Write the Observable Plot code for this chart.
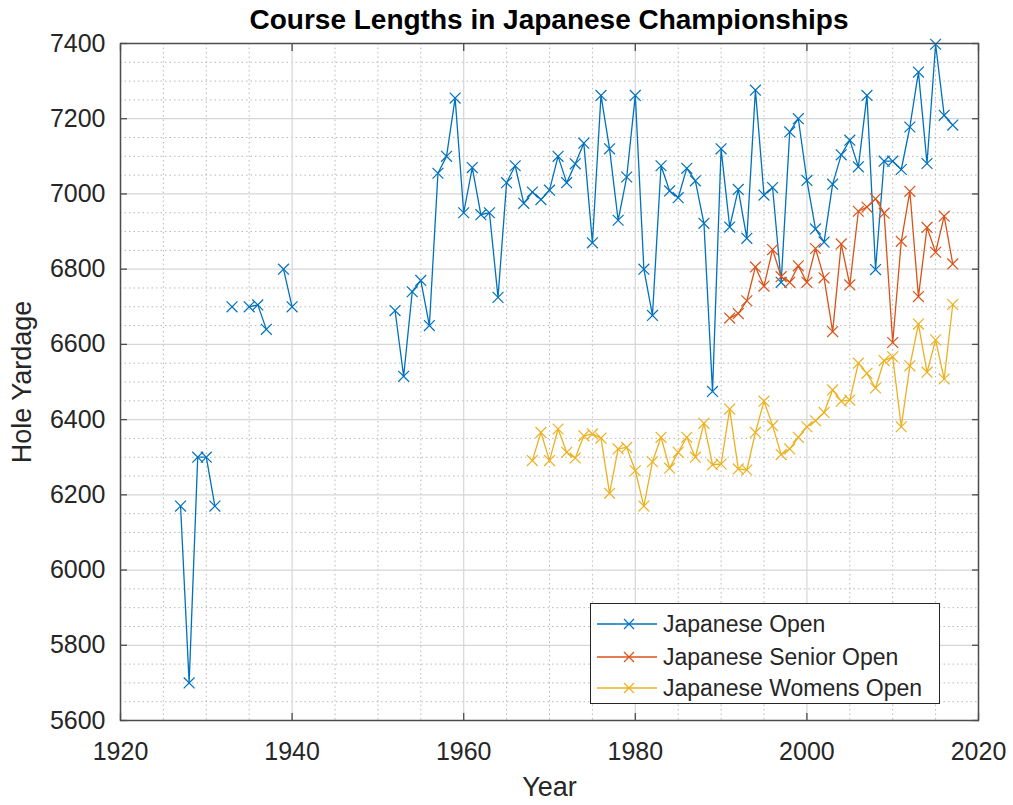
<!DOCTYPE html>
<html><head><meta charset="utf-8">
<script src="https://cdn.jsdelivr.net/npm/d3@7"></script>
<script src="https://cdn.jsdelivr.net/npm/@observablehq/plot@0.6"></script>
<style>
body{margin:0;background:#fff;font-family:"Liberation Sans",Arial,sans-serif;}
#wrap{position:relative;width:1013px;height:805px;overflow:hidden;}
#title{margin-left:120px;width:858px;height:38px;box-sizing:border-box;padding-top:2px;line-height:36px;text-align:center;font-weight:bold;font-size:28px;color:#000;white-space:nowrap;}
#legend{position:absolute;left:590px;top:603px;width:350px;height:101px;box-sizing:border-box;border:1.3px solid #262626;background:#fff;}
.row{position:absolute;left:0;height:32px;width:100%;}
.row svg{position:absolute;left:0;top:0;}
.row span{position:absolute;left:72px;top:0;line-height:32px;font-size:23px;color:#262626;white-space:nowrap;}
</style></head><body>
<div id="wrap"><div id="title">Course Lengths in Japanese Championships</div><div id="chart"></div><div id="legend"></div></div>
<script>
// ---- data ----
const seriesNames = ["Japanese Open", "Japanese Senior Open", "Japanese Womens Open"];
const seriesColors = ["#0072BD", "#D95319", "#EDB120"];

const openStart = 1927;
const openValues = [
  6170, 5700, 6300, 6300, 6170, null, 6700, null, 6700, 6705, 6640, null, 6800, 6700, // 1927-1940
  null, null, null, null, null, null, null, null, null, null, null,                     // 1941-1951
  6690, 6515, 6740, 6770, 6650, 7055, 7100, 7255,                                       // 1952-1959
  6950, 7070, 6945, 6950, 6725, 7030, 7075, 6975, 7005, 6985,                           // 1960-1969
  7010, 7100, 7030, 7080, 7135, 6870, 7262, 7120, 6930, 7045,                           // 1970-1979
  7262, 6800, 6677, 7075, 7008, 6990, 7068, 7035, 6922, 6475,                           // 1980-1989
  7120, 6912, 7012, 6882, 7276, 6997, 7017, 6765, 7165, 7200,                           // 1990-1999
  7036, 6907, 6872, 7026, 7104, 7143, 7072, 7262, 6799, 7087,                           // 2000-2009
  7087, 7065, 7178, 7324, 7081, 7398, 7209, 7183                                        // 2010-2017
];

const seniorStart = 1991;
const seniorValues = [
  6670, 6682, 6716, 6806, 6755, 6852, 6780, 6765, 6809,                                 // 1991-1999
  6765, 6855, 6777, 6634, 6867, 6758, 6954, 6965, 6987, 6949,                           // 2000-2009
  6605, 6874, 7007, 6727, 6911, 6845, 6941, 6814                                        // 2010-2017
];

const womensStart = 1968;
const womensValues = [
  6291, 6366,                                                                           // 1968-1969
  6291, 6375, 6313, 6298, 6357, 6362, 6351, 6204, 6322, 6326,                           // 1970-1979
  6264, 6170, 6288, 6353, 6271, 6313, 6353, 6300, 6390, 6280,                           // 1980-1989
  6282, 6428, 6269, 6266, 6366, 6449, 6384, 6307, 6322, 6353,                           // 1990-1999
  6381, 6397, 6419, 6479, 6449, 6452, 6550, 6523, 6484, 6557,                           // 2000-2009
  6567, 6381, 6543, 6654, 6526, 6612, 6508, 6706                                        // 2010-2017
];

const xTicks = [1920, 1940, 1960, 1980, 2000, 2020];
const yTicks = [5600, 5800, 6000, 6200, 6400, 6600, 6800, 7000, 7200, 7400];
const xMinor = d3.range(1925, 2020, 5).filter(v => !xTicks.includes(v));
const yMinor = d3.range(5650, 7400, 50).filter(v => !yTicks.includes(v));

// ---- build table ----
function toRows(start, values, name) {
  return values.map((v, i) => ({year: start + i, value: v == null ? NaN : v, series: name}));
}
const tables = [
  toRows(openStart, openValues, seriesNames[0]),
  toRows(seniorStart, seniorValues, seriesNames[1]),
  toRows(womensStart, womensValues, seriesNames[2])
];

const frameColor = "#4d4d4d";
const seriesMarks = tables.flatMap((rows, k) => [
  Plot.line(rows, {x: "year", y: "value", stroke: seriesColors[k], strokeWidth: 1.3}),
  Plot.dot(rows.filter(d => !isNaN(d.value)), {x: "year", y: "value", symbol: "times", r: 5, stroke: seriesColors[k], strokeWidth: 1.2})
]);

const chart = Plot.plot({
  width: 1013, height: 767,
  marginTop: 5, marginBottom: 85, marginLeft: 120, marginRight: 35,
  style: {fontFamily: "'Liberation Sans', Arial, sans-serif", fontSize: "25px", color: "#262626", background: "#fff", overflow: "visible"},
  x: {domain: [1920, 2020]},
  y: {domain: [5600, 7400]},
  marks: [
    Plot.ruleX(xMinor, {stroke: "#b8b8b8", strokeWidth: 1, strokeDasharray: "1.5,3"}),
    Plot.ruleY(yMinor, {stroke: "#b8b8b8", strokeWidth: 1, strokeDasharray: "1.5,3"}),
    Plot.gridX(xTicks, {stroke: "#d6d6d6", strokeOpacity: 1, strokeWidth: 1.2}),
    Plot.gridY(yTicks, {stroke: "#d6d6d6", strokeOpacity: 1, strokeWidth: 1.2}),
    ...seriesMarks,
    Plot.frame({stroke: frameColor, strokeWidth: 1.5}),
    Plot.axisX(xTicks, {anchor: "bottom", tickSize: 0, tickPadding: 22, tickFormat: "d", fill: "#262626",
      label: "Year", labelAnchor: "center", labelOffset: 75, labelArrow: "none", fontSize: 25}),
    Plot.axisX(xTicks, {anchor: "bottom", tickSize: -7, stroke: frameColor, strokeWidth: 1.3, fill: "none", label: null}),
    Plot.axisX(xTicks, {anchor: "top", tickSize: -7, stroke: frameColor, strokeWidth: 1.3, fill: "none", label: null}),
    Plot.axisY(yTicks, {anchor: "left", tickSize: 0, tickPadding: 15, tickFormat: "d", fill: "#262626",
      label: "Hole Yardage", labelAnchor: "center", labelOffset: 109, labelArrow: "none", fontSize: 25}),
    Plot.axisY(yTicks, {anchor: "left", tickSize: -7, stroke: frameColor, strokeWidth: 1.3, fill: "none", label: null}),
    Plot.axisY(yTicks, {anchor: "right", tickSize: -7, stroke: frameColor, strokeWidth: 1.3, fill: "none", label: null})
  ]
});
document.getElementById("chart").appendChild(chart);
// bigger axis-label text
chart.querySelectorAll("g[aria-label='x-axis label'] text, g[aria-label='y-axis label'] text").forEach(t => t.setAttribute("font-size", "27"));

// ---- legend ----
const legend = document.getElementById("legend");
const rowTops = [4, 37, 68];
seriesNames.forEach((name, k) => {
  const row = document.createElement("div");
  row.className = "row";
  row.style.top = rowTops[k] + "px";
  const c = seriesColors[k];
  row.innerHTML = `<svg width="70" height="32"><line x1="6" x2="66" y1="16" y2="16" stroke="${c}" stroke-width="1.3"/>` +
    `<path d="M33,11L43,21M43,11L33,21" stroke="${c}" stroke-width="1.2"/></svg><span>${name}</span>`;
  legend.appendChild(row);
});
</script>
</body></html>
